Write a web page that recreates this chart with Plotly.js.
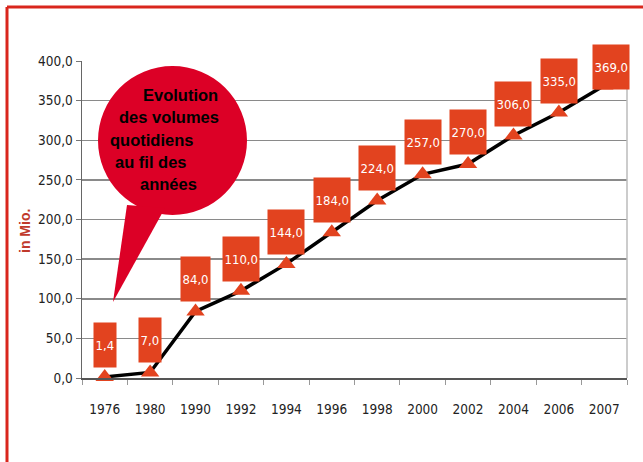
<!DOCTYPE html>
<html>
<head>
<meta charset="utf-8">
<script src="https://cdn.plot.ly/plotly-3.0.1.min.js"></script>
<style>html,body{margin:0;padding:0;background:#fff;}#chart{width:643px;height:462px;}</style>
</head>
<body>
<div id="chart"></div>
<script>
// Data
const years = ['1976','1980','1990','1992','1994','1996','1998','2000','2002','2004','2006','2007'];
const volumes = [1.4, 7.0, 84.0, 110.0, 144.0, 184.0, 224.0, 257.0, 270.0, 306.0, 335.0, 369.0];
const yTickVals = [0, 50, 100, 150, 200, 250, 300, 350, 400];
const yTickText = ['0,0','50,0','100,0','150,0','200,0','250,0','300,0','350,0','400,0'];
const bubbleLines = ['Evolution', 'des volumes', 'quotidiens', 'au fil des', 'années'];
const yAxisLabel = 'in Mio.';

// Geometry of plot area (pixels)
const W = 643, H = 462;
const L = 82, R = 627, T = 61, B = 378;
const px = X => (X - L) / (R - L);
const py = Y => (B - Y) / (B - T);

const narrow = '"DejaVu Sans Condensed", "Liberation Sans Narrow", Arial, sans-serif';
const boxColor = '#e2431f';
const bubbleRed = '#dc0026';

const idx = years.map((_, i) => i);

const trace = {
  type: 'scatter',
  mode: 'lines+markers',
  x: idx,
  y: volumes,
  line: {color: '#000', width: 3.5},
  marker: {symbol: 'triangle-up', size: 16, color: boxColor},
  hoverinfo: 'skip',
  cliponaxis: false
};

const annotations = [];
volumes.forEach((v, i) => {
  const last = i === volumes.length - 1;
  annotations.push({
    x: idx[i], y: v, xref: 'x', yref: 'y',
    text: v.toFixed(1).replace('.', ','),
    showarrow: false,
    font: {family: narrow, size: 13, color: '#fff'},
    bgcolor: boxColor,
    borderpad: 1.5,
    height: 41,
    yshift: last ? 19 : 32,
    xshift: last ? 7 : 0,
    valign: 'middle'
  });
});

// Bubble text
const bubblePos = [[141, 95], [117, 117], [108, 140], [113, 162], [138, 184]];
bubbleLines.forEach((t, i) => {
  annotations.push({
    xref: 'paper', yref: 'paper',
    x: px(bubblePos[i][0]), y: py(bubblePos[i][1]),
    xanchor: 'left', yanchor: 'middle',
    text: '<b>' + t + '</b>',
    showarrow: false,
    font: {family: 'Liberation Sans, Arial, sans-serif', size: 16.5, color: '#000'}
  });
});

// Y axis label
annotations.push({
  xref: 'paper', yref: 'paper',
  x: px(25), y: py(231),
  xanchor: 'center', yanchor: 'middle',
  text: '<b>' + yAxisLabel + '</b>',
  textangle: -90,
  showarrow: false,
  font: {family: 'Liberation Sans, Arial, sans-serif', size: 14, color: '#c0392b'}
});

const shapes = [
  // red frame
  {type: 'line', xref: 'paper', yref: 'paper', x0: px(7), x1: px(W), y0: py(7), y1: py(7),
   line: {color: '#d9261c', width: 3}},
  {type: 'line', xref: 'paper', yref: 'paper', x0: px(7), x1: px(7), y0: py(7), y1: py(H),
   line: {color: '#d9261c', width: 3}},
  // right plot border
  {type: 'line', xref: 'paper', yref: 'paper', x0: 1, x1: 1, y0: 0, y1: 1,
   line: {color: '#bbbbbb', width: 1.5}},
  // speech bubble
  {type: 'circle', xref: 'paper', yref: 'paper',
   x0: px(98), x1: px(247), y0: py(215), y1: py(66),
   fillcolor: bubbleRed, line: {width: 0}},
  {type: 'path', xref: 'paper', yref: 'paper',
   path: 'M ' + px(127) + ' ' + py(205) + ' L ' + px(165) + ' ' + py(208) + ' L ' + px(113) + ' ' + py(302) + ' Z',
   fillcolor: bubbleRed, line: {width: 0}}
];

const layout = {
  width: W, height: H,
  margin: {l: L, r: W - R, t: T, b: H - B},
  paper_bgcolor: '#fff',
  plot_bgcolor: '#fff',
  showlegend: false,
  xaxis: {
    type: 'linear',
    range: [-0.5, idx.length - 0.5],
    tickvals: idx, ticktext: years,
    ticks: '',
    minor: {tick0: -0.5, dtick: 1, ticks: 'outside', ticklen: 5, tickcolor: '#999', tickwidth: 1, showgrid: false},
    showgrid: false,
    zeroline: false,
    showline: true, linecolor: '#555', linewidth: 2,
    tickfont: {family: narrow, size: 13.5, color: '#222'},
    ticklabelstandoff: 18,
    fixedrange: true
  },
  yaxis: {
    range: [0, 400],
    tickvals: yTickVals, ticktext: yTickText,
    ticks: 'outside', ticklen: 5, tickcolor: '#777', tickwidth: 1,
    showgrid: true, gridcolor: '#8a8a8a', gridwidth: 1.5,
    showline: true, linecolor: '#666', linewidth: 1.5,
    zeroline: false,
    tickfont: {family: narrow, size: 13.5, color: '#222'},
    fixedrange: true
  },
  shapes: shapes,
  annotations: annotations
};

Plotly.newPlot('chart', [trace], layout, {displayModeBar: false, staticPlot: true});
</script>
</body>
</html>
